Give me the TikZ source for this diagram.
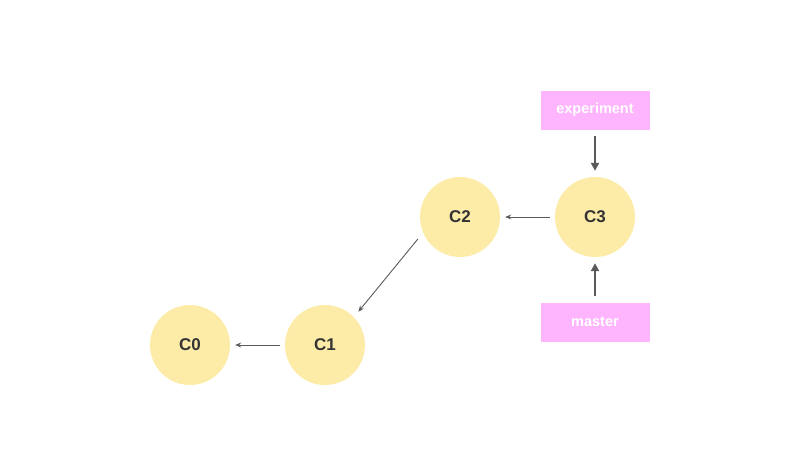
\documentclass[tikz,border=0pt]{standalone}
\usepackage{fontspec}
\setmainfont{Liberation Sans}
\usetikzlibrary{arrows.meta}
\definecolor{CommitFill}{HTML}{FDEBA8}
\definecolor{BranchFill}{HTML}{FFB5FE}
\definecolor{EdgeGray}{HTML}{5A5A5A}
\definecolor{TextGray}{HTML}{333333}

\begin{document}
\begin{tikzpicture}[x=1pt,y=-1pt,font=\bfseries,
  commit/.style={circle,fill=CommitFill,minimum size=80pt,inner sep=0pt,
    text=TextGray,font=\bfseries\fontsize{17}{20}\selectfont},
  branch/.style={rectangle,fill=BranchFill,minimum width=109pt,minimum height=39pt,
    inner sep=0pt,text=white,font=\bfseries\fontsize{14.5}{17}\selectfont},
  parent/.style={-{Stealth[length=6pt,width=5pt]},EdgeGray,line width=0.9pt,
    shorten <=5pt,shorten >=5pt},
  pointer/.style={-{Triangle[length=8pt,width=8pt]},EdgeGray,line width=2pt,
    shorten <=6pt,shorten >=6pt}]
  \useasboundingbox (0,0) rectangle (800,472);

  % Commits
  \node[commit] (c0) at (190,345) {C0};
  \node[commit] (c1) at (325,345) {C1};
  \node[commit] (c2) at (460,217) {C2};
  \node[commit] (c3) at (595,217) {C3};

  % Branch labels
  \node[branch] (experiment) at (595,110) {experiment};
  \node[branch] (master) at (595,322) {master};

  % Parent links
  \draw[parent] (c1) -- (c0);
  \draw[parent] (c3) -- (c2);
  \draw[parent,shorten <=8pt,shorten >=7pt] (c2.203) -- (c1.44);

  % Branches point at C3
  \draw[pointer] (experiment) -- (c3);
  \draw[pointer] (master) -- (c3);
\end{tikzpicture}
\end{document}
